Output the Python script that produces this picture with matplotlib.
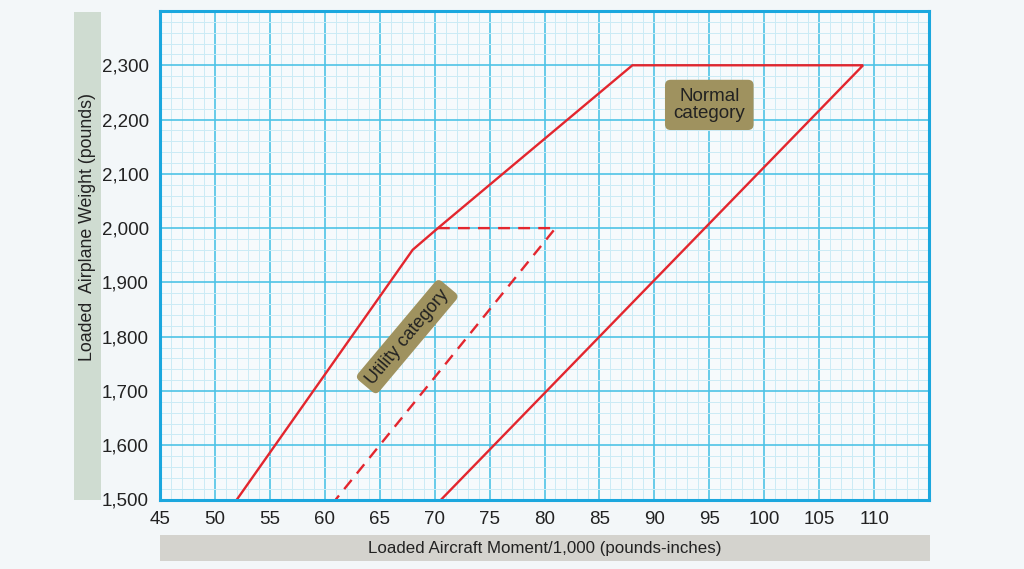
import matplotlib
matplotlib.use("Agg")
import matplotlib.pyplot as plt
from matplotlib.patches import Rectangle
from matplotlib.ticker import MultipleLocator, FuncFormatter

plt.rcParams['font.family'] = ['Liberation Sans', 'DejaVu Sans']

# envelope (moment/1000, weight lb)
normal_x = [52, 68, 70.3, 88, 109, 70.6]
normal_y = [1500, 1960, 2000, 2300, 2300, 1500]
utility_x = [70.3, 81, 61]
utility_y = [2000, 2000, 1500]

x_ticks = list(range(45, 111, 5))
y_ticks = list(range(1500, 2301, 100))

red = '#e3262e'
frame = '#1ba7de'

fig = plt.figure(figsize=(10.24, 5.69), dpi=100)
fig.patch.set_facecolor('#f3f7f9')

# label boxes
fig.patches.append(Rectangle((74 / 1024, 1 - 500 / 569), 27 / 1024, 488 / 569,
                             transform=fig.transFigure, facecolor='#cfdcd1', edgecolor='none'))
fig.patches.append(Rectangle((160 / 1024, 1 - 561 / 569), 770 / 1024, 26 / 569,
                             transform=fig.transFigure, facecolor='#d4d3ce', edgecolor='none'))
fig.text(545 / 1024, 1 - 548 / 569, 'Loaded Aircraft Moment/1,000 (pounds-inches)',
         ha='center', va='center', fontsize=12.2, color='#222222')
fig.text(88 / 1024, 1 - 227 / 569, 'Loaded  Airplane Weight (pounds)',
         ha='center', va='center', rotation=90, fontsize=12.8, color='#222222')

ax = fig.add_axes([160 / 1024, 1 - 499.5 / 569, 769 / 1024, 488.5 / 569])
ax.set_facecolor('#f6fafc')
ax.set_xlim(45, 115)
ax.set_ylim(1500, 2400)
ax.set_xticks(x_ticks)
ax.set_yticks(y_ticks)
ax.xaxis.set_minor_locator(MultipleLocator(1))
ax.yaxis.set_minor_locator(MultipleLocator(20))
ax.yaxis.set_major_formatter(FuncFormatter(lambda v, p: f'{int(v):,}'))
ax.grid(which='major', color='#4fc3e6', linewidth=1.2)
ax.grid(which='minor', color='#cbebf5', linewidth=0.7)
ax.set_axisbelow(True)
ax.tick_params(which='both', length=0, labelsize=13.5, colors='#222222')
ax.tick_params(axis='x', pad=8)
ax.tick_params(axis='y', pad=8)
for s in ax.spines.values():
    s.set_color(frame)
    s.set_linewidth(2.2)

ax.plot(normal_x, normal_y, color=red, linewidth=1.7, solid_joinstyle='miter')
ax.plot(utility_x, utility_y, color=red, linewidth=1.7, dashes=(5, 3.5))

box = dict(boxstyle='round,pad=0.45,rounding_size=0.3', facecolor='#9f925f', edgecolor='none')
ax.text(95.0, 2227, 'Normal\ncategory', ha='center', va='center', fontsize=13.5,
        color='#222222', linespacing=0.95, bbox=box)
box_u = dict(boxstyle='round,pad=0.3,rounding_size=0.3', facecolor='#9f925f', edgecolor='none')
ax.text(67.5, 1800, 'Utility category', ha='center', va='center', fontsize=13,
        color='#222222', rotation=50, rotation_mode='anchor', bbox=box_u)

fig.savefig('out.png', dpi=100, facecolor=fig.get_facecolor())
